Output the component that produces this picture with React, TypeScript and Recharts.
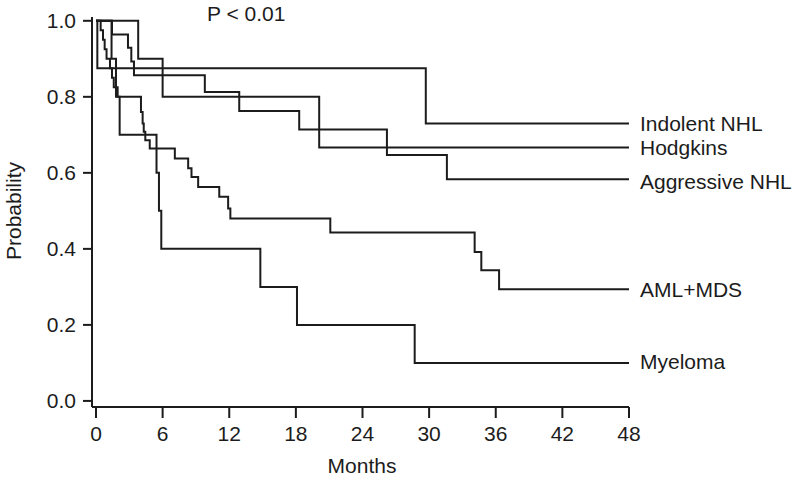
import React from 'react'
import { LineChart, Line, XAxis, YAxis } from 'recharts'

// time axis (months) and probability ticks
const monthTicks = [0, 6, 12, 18, 24, 30, 36, 42, 48]
const probTicks = [0, 0.2, 0.4, 0.6, 0.8, 1.0]

// Kaplan-Meier steps: month of each step and survival after it
const indolentT = [0, 0.12, 29.7, 48]
const indolentP = [1, 0.875, 0.73, 0.73]

const hodgkinsT = [0, 3.8, 6.0, 20.1, 48]
const hodgkinsP = [1, 0.9, 0.8, 0.667, 0.667]

const aggressiveT = [0, 1.44, 2.88, 3.18, 3.42, 9.8, 12.9, 18.3, 26.2, 31.6, 48]
const aggressiveP = [1, 0.964, 0.929, 0.893, 0.857, 0.813, 0.763, 0.714, 0.647, 0.583, 0.583]

const amlT = [0, 0.42, 0.63, 0.78, 0.95, 1.26, 1.44, 1.6, 1.95, 4.05, 4.2, 4.3, 4.44, 4.84, 7.1, 8.3, 8.6, 9.2, 11.1, 11.9, 12.1, 21.1, 34.1, 34.7, 36.3, 48]
const amlP = [1, 0.975, 0.95, 0.925, 0.9, 0.875, 0.85, 0.825, 0.8, 0.76, 0.73, 0.708, 0.686, 0.664, 0.638, 0.612, 0.589, 0.563, 0.537, 0.506, 0.48, 0.443, 0.392, 0.344, 0.294, 0.294]

const myelomaT = [0, 1.4, 1.8, 2.13, 5.45, 5.67, 5.88, 14.8, 18.1, 28.7, 48]
const myelomaP = [1, 0.9, 0.8, 0.7, 0.6, 0.5, 0.4, 0.3, 0.2, 0.1, 0.1]

const groups = ['Indolent NHL', 'Hodgkins', 'Aggressive NHL', 'AML+MDS', 'Myeloma']

const zip = (t: number[], p: number[]) => t.map((m, i) => ({ t: m, p: p[i] }))

const series = [
  { name: groups[0], data: zip(indolentT, indolentP), dy: 0 },
  { name: groups[1], data: zip(hodgkinsT, hodgkinsP), dy: 0 },
  { name: groups[2], data: zip(aggressiveT, aggressiveP), dy: 2 },
  { name: groups[3], data: zip(amlT, amlP), dy: 0 },
  { name: groups[4], data: zip(myelomaT, myelomaP), dy: -1 },
]

const INK = '#1c1c1c'
const FONT = '"Liberation Sans", Arial, sans-serif'

const endLabel = (name: string, last: number, dy: number) => (props: any) => {
  if (props.index !== last) return null
  return (
    <text x={props.x + 11} y={props.y + dy} dominantBaseline="central" fontSize={21} fill={INK} fontFamily={FONT}>
      {name}
    </text>
  )
}

export default function App() {
  const tick = { fontSize: 21, fill: INK, fontFamily: FONT }
  return (
    <div style={{ position: 'fixed', left: 0, top: 0, width: 800, height: 480, background: '#fff', fontFamily: FONT }}>
      <LineChart width={800} height={480} margin={{ top: 17, right: 171, left: 32, bottom: 3 }}>
        <XAxis
          type="number" dataKey="t" domain={[-0.36, 48]} allowDataOverflow ticks={monthTicks}
          tick={tick} tickSize={11} tickMargin={8} height={70}
          axisLine={{ stroke: INK, strokeWidth: 2 }} tickLine={{ stroke: INK, strokeWidth: 2 }}
        />
        <YAxis
          type="number" domain={[-0.016, 1.01]} allowDataOverflow ticks={probTicks}
          tickFormatter={(v: number) => v.toFixed(1)}
          tick={tick} tickSize={9} tickMargin={7} width={60}
          axisLine={{ stroke: INK, strokeWidth: 2 }} tickLine={{ stroke: INK, strokeWidth: 2 }}
        />
        {series.map((s) => (
          <Line
            key={s.name} data={s.data} dataKey="p" type="stepAfter"
            stroke={INK} strokeWidth={2} dot={false} isAnimationActive={false}
            label={endLabel(s.name, s.data.length - 1, s.dy)}
          />
        ))}
      </LineChart>
      <div style={{ position: 'absolute', left: 207, top: 2, fontSize: 21, color: INK }}>P &lt; 0.01</div>
      <div style={{ position: 'absolute', left: 312, top: 454, width: 100, textAlign: 'center', fontSize: 21, color: INK }}>Months</div>
      <div
        style={{
          position: 'absolute', left: 14, top: 211, fontSize: 21, color: INK, whiteSpace: 'nowrap',
          transform: 'translate(-50%, -50%) rotate(-90deg)',
        }}
      >
        Probability
      </div>
    </div>
  )
}
